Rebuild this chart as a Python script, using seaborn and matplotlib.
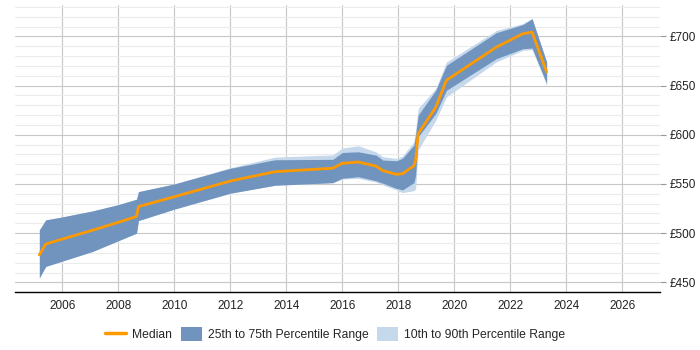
import matplotlib
matplotlib.use("Agg")
import matplotlib.pyplot as plt
from matplotlib.lines import Line2D
from matplotlib.patches import Patch
from matplotlib.ticker import MultipleLocator, FuncFormatter
import seaborn as sns
import pandas as pd

years = [2005.18, 2005.41, 2006.0, 2007.08, 2008.0, 2008.65, 2008.72, 2010.0, 2012.0,
         2013.6, 2015.66, 2016.0, 2016.57, 2017.2, 2017.45, 2017.93, 2018.15, 2018.56,
         2018.62, 2018.71, 2019.34, 2019.72, 2021.5, 2022.45, 2022.78, 2023.3]
median = [478, 489, 494, 503, 511, 517, 527, 537, 553, 562.5, 566, 571, 572.3, 568.2,
          563.5, 559.8, 560.4, 568.5, 574, 601, 628, 655.4, 689, 702.7, 704.3, 663.8]
p75 = [503.4, 513.5, 516.5, 522.6, 529, 534.5, 542.2, 550, 565.9, 574.6, 575, 582, 582.7,
       579.4, 574.3, 573.6, 576, 589.5, 600, 620, 645.2, 670.6, 703.7, 712, 718, 674]
p25 = [454.5, 466.2, 471.6, 481.4, 492.3, 500, 512.8, 524.4, 540.6, 548.7, 551.3, 555.8,
       557.4, 553.3, 550.7, 545.6, 544, 551.3, 559, 598, 621.6, 645.2, 677.3, 687.5, 688.1, 652]
p90 = [503.4, 513.5, 516.5, 522.6, 529, 534.5, 542.2, 550, 566.5, 577.3, 579.5, 586.5,
       588.8, 582.7, 577.7, 576, 578.4, 592.9, 605, 626.7, 647, 674, 706, 713, 718, 674]
p10 = [454.5, 466.2, 471.6, 481.4, 492.3, 500, 512.8, 524.4, 540.6, 548.7, 551.3, 555,
       555.7, 552, 549, 544, 541.2, 543.2, 545, 584.5, 614.8, 638.4, 674, 685.8, 686.5, 650.5]

legend_labels = ["Median", "25th to 75th Percentile Range", "10th to 90th Percentile Range"]

df = pd.DataFrame({"year": years, "median": median, "p25": p25, "p75": p75,
                   "p10": p10, "p90": p90})

sns.set_style("white")
plt.rcParams["font.family"] = ["Liberation Sans", "DejaVu Sans"]

ORANGE = "#ff9900"
DARK = "#7094be"
LIGHT = "#c6d8eb"

fig = plt.figure(figsize=(7, 3.5), dpi=100)
ax = fig.add_axes([0.0214, 0.166, 0.9215, 0.82])

ax.fill_between(df["year"], df["p10"], df["p90"], color=LIGHT, lw=0, zorder=2)
ax.fill_between(df["year"], df["p25"], df["p75"], color=DARK, lw=0, zorder=3)
sns.lineplot(data=df, x="year", y="median", ax=ax, color=ORANGE, lw=2, zorder=4,
             estimator=None, sort=False)

ax.set_xlim(2004.31, 2027.35)
ax.set_ylim(440.3, 732)
ax.xaxis.set_major_locator(MultipleLocator(2))
ax.yaxis.set_major_locator(MultipleLocator(50))
ax.yaxis.set_minor_locator(MultipleLocator(10))
ax.yaxis.set_major_formatter(FuncFormatter(lambda v, p: f"£{int(v)}"))
ax.yaxis.tick_right()

ax.grid(True, which="major", axis="both", color="#c8c8c8", lw=0.8, zorder=0)
ax.grid(True, which="minor", axis="y", color="#ebebeb", lw=0.8, zorder=0)
ax.set_axisbelow(True)

for s in ["top", "left", "right"]:
    ax.spines[s].set_visible(False)
ax.spines["bottom"].set_color("black")
ax.spines["bottom"].set_linewidth(1)

ax.tick_params(axis="x", length=0, labelsize=8.5, colors="#222222", pad=6)
ax.tick_params(axis="y", which="major", length=4, color="#999999", labelsize=8.5,
               labelcolor="#222222", pad=3)
ax.tick_params(axis="y", which="minor", length=0)
ax.set_xlabel("")
ax.set_ylabel("")

handles = [Line2D([0], [0], color=ORANGE, lw=2.5),
           Patch(facecolor=DARK, edgecolor="none"),
           Patch(facecolor=LIGHT, edgecolor="none")]
fig.legend(handles, legend_labels, loc="center", bbox_to_anchor=(0.479, 0.045), ncol=3,
           frameon=False, fontsize=8.7, handlelength=1.7, handleheight=1.35,
           columnspacing=0.75, handletextpad=0.5)

fig.savefig("out.png", dpi=100)
